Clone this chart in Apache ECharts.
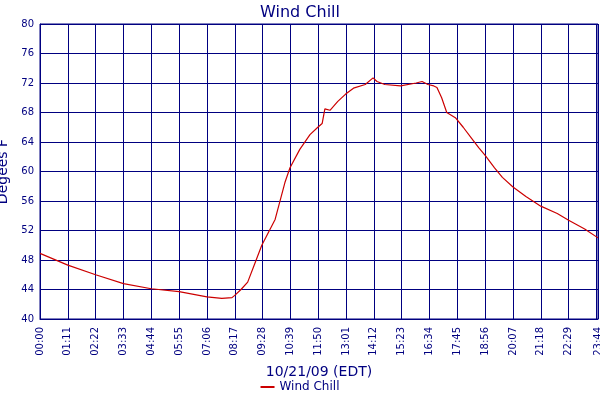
<!DOCTYPE html>
<html style="height: 100%">
<head>
    <meta charset="utf-8">
    <title>Wind Chill</title>
    <script src="https://cdn.jsdelivr.net/npm/echarts@6/dist/echarts.min.js"></script>
</head>
<body style="height: 100%; margin: 0; background: #fff">
    <div id="main" style="width: 600px; height: 400px"></div>
    <script type="text/javascript">
        // minutes since midnight, paired with wind chill readings
        var minutes = [0, 71, 142, 213, 284, 355, 426, 464, 490, 497, 513, 530, 548, 566, 600, 625, 638, 663, 689, 709, 720, 727, 740, 760, 780, 800, 830, 850, 860, 880, 920, 960, 975, 990, 1005, 1013, 1025, 1038, 1060, 1080, 1100, 1120, 1136, 1160, 1180, 1207, 1240, 1278, 1320, 1349, 1390, 1424];
        var windChill = [48.9, 47.3, 46.0, 44.8, 44.1, 43.7, 43.0, 42.8, 42.9, 43.2, 44.0, 45, 47.5, 50, 53.5, 58.5, 60.5, 63, 65, 66, 66.5, 68.5, 68.3, 69.5, 70.5, 71.3, 71.8, 72.7, 72.2, 71.8, 71.6, 72, 72.2, 71.8, 71.6, 71.4, 70, 68, 67.3, 66, 64.6, 63.2, 62.2, 60.5, 59.2, 57.9, 56.6, 55.3, 54.3, 53.4, 52.2, 51];
        var points = [];
        for (var i = 0; i < minutes.length; i++) points.push([minutes[i], windChill[i]]);

        function hhmm(m) {
            var h = Math.floor(m / 60), mm = Math.round(m % 60);
            return (h < 10 ? '0' : '') + h + ':' + (mm < 10 ? '0' : '') + mm;
        }

        var navy = '#000080';
        var myChart = echarts.init(document.getElementById('main'));
        var option = {
            animation: false,
            title: {
                text: 'Wind Chill', left: 'center', top: 0,
                textStyle: { color: navy, fontFamily: 'DejaVu Sans', fontSize: 16, fontWeight: 'normal' }
            },
            legend: {
                bottom: 2, left: 'center', itemWidth: 14, itemHeight: 2, icon: 'rect',
                textStyle: { color: navy, fontFamily: 'DejaVu Sans', fontSize: 12 },
                data: ['Wind Chill']
            },
            grid: { left: 40, right: 2, top: 24, bottom: 81, outerBoundsMode: 'none', containLabel: false,
                    show: true, borderColor: navy, borderWidth: 1 },
            xAxis: {
                type: 'value', min: 0, max: 1424, interval: 71,
                name: '10/21/09 (EDT)', nameLocation: 'middle', nameGap: 46,
                nameTextStyle: { color: navy, fontFamily: 'DejaVu Sans', fontSize: 14 },
                axisLine: { lineStyle: { color: navy } },
                axisTick: { show: false },
                splitLine: { lineStyle: { color: navy, width: 1 } },
                axisLabel: {
                    rotate: 90, color: navy, fontFamily: 'DejaVu Sans', fontSize: 10,
                    showMaxLabel: true, hideOverlap: false, formatter: function (v) { return hhmm(v); }
                }
            },
            yAxis: {
                type: 'value', min: 40, max: 80, interval: 4,
                name: 'Degees F', nameLocation: 'middle', nameGap: 26,
                nameTextStyle: { color: navy, fontFamily: 'DejaVu Sans', fontSize: 14 },
                axisLine: { lineStyle: { color: navy } },
                axisTick: { show: false },
                splitLine: { lineStyle: { color: navy, width: 1 } },
                axisLabel: { color: navy, fontFamily: 'DejaVu Sans', fontSize: 10, margin: 6 }
            },
            series: [{
                name: 'Wind Chill', type: 'line', data: points, showSymbol: false,
                lineStyle: { color: '#cc0000', width: 1.2 }, itemStyle: { color: '#cc0000' }
            }]
        };
        myChart.setOption(option);
    </script>
</body>
</html>
